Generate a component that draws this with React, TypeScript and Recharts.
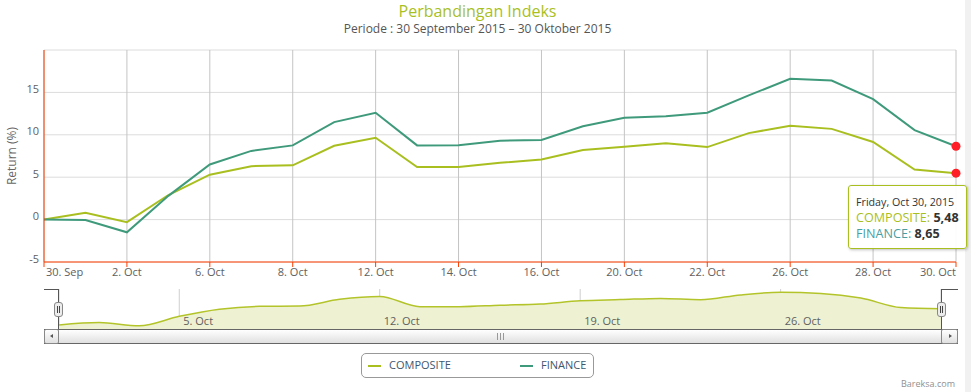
import React from "react";
import { LineChart, Line, AreaChart, Area, XAxis, YAxis, CartesianGrid, Tooltip } from "recharts";

const dates = [
  "30. Sep", "1. Oct", "2. Oct", "5. Oct", "6. Oct", "7. Oct", "8. Oct", "9. Oct",
  "12. Oct", "13. Oct", "14. Oct", "15. Oct", "16. Oct", "19. Oct", "20. Oct", "21. Oct",
  "22. Oct", "23. Oct", "26. Oct", "27. Oct", "28. Oct", "29. Oct", "30. Oct",
];
const longDates = [
  "Wednesday, Sep 30, 2015", "Thursday, Oct 1, 2015", "Friday, Oct 2, 2015", "Monday, Oct 5, 2015",
  "Tuesday, Oct 6, 2015", "Wednesday, Oct 7, 2015", "Thursday, Oct 8, 2015", "Friday, Oct 9, 2015",
  "Monday, Oct 12, 2015", "Tuesday, Oct 13, 2015", "Wednesday, Oct 14, 2015", "Thursday, Oct 15, 2015",
  "Friday, Oct 16, 2015", "Monday, Oct 19, 2015", "Tuesday, Oct 20, 2015", "Wednesday, Oct 21, 2015",
  "Thursday, Oct 22, 2015", "Friday, Oct 23, 2015", "Monday, Oct 26, 2015", "Tuesday, Oct 27, 2015",
  "Wednesday, Oct 28, 2015", "Thursday, Oct 29, 2015", "Friday, Oct 30, 2015",
];
const composite = [0, 0.8, -0.3, 2.9, 5.3, 6.3, 6.4, 8.7, 9.65, 6.2, 6.2, 6.7, 7.1, 8.2, 8.6, 9.0, 8.55, 10.2, 11.07, 10.7, 9.15, 5.9, 5.48];
const finance = [0, -0.05, -1.5, 2.8, 6.5, 8.1, 8.75, 11.5, 12.6, 8.75, 8.78, 9.3, 9.4, 11.0, 12.0, 12.2, 12.6, 14.65, 16.6, 16.4, 14.2, 10.55, 8.65];
const yTicks = [-5, 0, 5, 10, 15, 20];
const navLabels = ["5. Oct", "12. Oct", "19. Oct", "26. Oct"];

const seriesNames = ["COMPOSITE", "FINANCE"];
const COMP = "#a9bf1f";
const FIN = "#3f9a7c";
const RED = "#ff3c00";
const FONT = '"Open Sans", sans-serif';

const rows = dates.map((d, i) => ({ i, label: d, composite: composite[i], finance: finance[i] }));
const xTicks = dates.map((_, i) => i).filter((i) => i % 2 === 0);
const navTicks = navLabels.map((l) => dates.indexOf(l));
const last = dates.length - 1;

const fmt = (v: number) => v.toFixed(2).replace(".", ",");

function XTick(props: any) {
  const { x, y, payload } = props;
  const idx = payload.value;
  const anchor = idx === 0 ? "start" : idx === last ? "end" : "middle";
  return (
    <text x={idx === 0 ? x + 2 : x} y={y + 7} textAnchor={anchor} fill="#606060" fontSize={11} fontFamily={FONT}>
      {dates[idx]}
    </text>
  );
}

function YTick(props: any) {
  const { x, y, payload } = props;
  if (payload.value === 20) return null;
  return (
    <text x={x} y={y + 0.5} textAnchor="end" fill="#606060" fontSize={11} fontFamily={FONT}>
      {payload.value}
    </text>
  );
}

function NavTick(props: any) {
  const { x, payload } = props;
  return (
    <text x={x + 4} y={325} textAnchor="start" fill="#606060" fontSize={11} fontFamily={FONT}>
      {dates[payload.value]}
    </text>
  );
}

function Tip(props: any) {
  const { active, payload, label } = props;
  if (!active || !payload || !payload.length) return null;
  const idx = typeof label === "number" ? label : last;
  const comp = payload.find((p: any) => p.dataKey === "composite");
  const fin = payload.find((p: any) => p.dataKey === "finance");
  return (
    <div
      style={{
        width: 119,
        height: 64,
        boxSizing: "border-box",
        border: `1px solid ${COMP}`,
        borderRadius: 3,
        background: "rgba(255,255,255,0.92)",
        boxShadow: "1px 1px 3px rgba(0,0,0,0.25)",
        padding: "8px 0 0 7px",
        fontFamily: FONT,
        whiteSpace: "nowrap",
      }}
    >
      <div style={{ fontSize: 10.7, lineHeight: "16px", color: "#333" }}>{longDates[idx]}</div>
      <div style={{ fontSize: 12.6, lineHeight: "15.5px" }}>
        <span style={{ color: COMP }}>{seriesNames[0]}: </span>
        <b style={{ color: "#333" }}>{comp ? fmt(comp.value) : ""}</b>
      </div>
      <div style={{ fontSize: 12.6, lineHeight: "15.5px" }}>
        <span style={{ color: "#4a9ea2" }}>{seriesNames[1]}: </span>
        <b style={{ color: "#333" }}>{fin ? fmt(fin.value) : ""}</b>
      </div>
    </div>
  );
}

const abs = (s: React.CSSProperties): React.CSSProperties => ({ position: "absolute", ...s });

export default function App() {
  return (
    <div style={abs({ left: 0, top: 0, width: 971, height: 392, background: "#fff", fontFamily: FONT, overflow: "hidden" })}>
      <div style={abs({ left: 965, top: 0, width: 6, height: 392, background: "#f1f1f1" })} />

      <div style={abs({ left: 0, top: 2, width: 955, textAlign: "center", fontSize: 16, lineHeight: "18px", color: COMP })}>
        Perbandingan Indeks
      </div>
      <div style={abs({ left: 0, top: 22, width: 955, textAlign: "center", fontSize: 12, lineHeight: "14px", color: "#555" })}>
        Periode : 30 September 2015 – 30 Oktober 2015
      </div>
      <div
        style={abs({
          left: 12 - 40,
          top: 156 - 8,
          width: 80,
          textAlign: "center",
          fontSize: 12,
          lineHeight: "16px",
          color: "#666",
          transform: "rotate(-90deg)",
        })}
      >
        Return (%)
      </div>

      {/* navigator */}
      <div style={abs({ left: 0, top: 0 })}>
        <AreaChart width={971} height={392} data={rows} margin={{ top: 289, right: 30, bottom: 33, left: 59 }}>
          <CartesianGrid horizontal={false} stroke="#cfcfcf" />
          <XAxis
            dataKey="i"
            type="number"
            domain={[0, last]}
            ticks={navTicks}
            interval={0}
            height={30}
            axisLine={false}
            tickLine={false}
            tick={<NavTick />}
          />
          <YAxis hide domain={[-1.4, 12.2]} />
          <Area
            type="monotone"
            dataKey="composite"
            stroke="#b3c42a"
            strokeWidth={1.5}
            fill="#eef2d2"
            fillOpacity={1}
            baseValue="dataMin"
            isAnimationActive={false}
          />
        </AreaChart>
      </div>

      {/* navigator outline + handles */}
      <div style={abs({ left: 44, top: 289, width: 15, height: 1, background: "#555" })} />
      <div style={abs({ left: 58, top: 289, width: 1, height: 41, background: "#555" })} />
      <div style={abs({ left: 941, top: 289, width: 17, height: 1, background: "#555" })} />
      <div style={abs({ left: 941, top: 289, width: 1, height: 41, background: "#555" })} />
      {[54, 937].map((l) => (
        <div key={l} style={abs({ left: l, top: 302, width: 9, height: 15, boxSizing: "border-box", border: "1px solid #888", borderRadius: 3, background: "#ececec" })}>
          <div style={abs({ left: 2, top: 3, width: 1, height: 7, background: "#444" })} />
          <div style={abs({ left: 4, top: 3, width: 1, height: 7, background: "#444" })} />
        </div>
      ))}

      {/* scrollbar */}
      <div style={abs({ left: 44, top: 329, width: 914, height: 15, boxSizing: "border-box", background: "linear-gradient(#ffffff,#e0e0e0)", borderTop: "1px solid #666", borderBottom: "1px solid #666" })} />
      <div style={abs({ left: 44, top: 329, width: 15, height: 15, boxSizing: "border-box", border: "1px solid #888", borderRadius: 2, background: "linear-gradient(#ffffff,#e0e0e0)" })}>
        <div style={abs({ left: 5, top: 4, width: 0, height: 0, borderTop: "2.5px solid transparent", borderBottom: "2.5px solid transparent", borderRight: "3px solid #555" })} />
      </div>
      <div style={abs({ left: 941, top: 329, width: 17, height: 15, boxSizing: "border-box", border: "1px solid #888", borderRadius: 2, background: "linear-gradient(#ffffff,#e0e0e0)" })}>
        <div style={abs({ left: 7, top: 4, width: 0, height: 0, borderTop: "2.5px solid transparent", borderBottom: "2.5px solid transparent", borderLeft: "3px solid #555" })} />
      </div>
      {[497, 500, 503].map((l) => (
        <div key={l} style={abs({ left: l, top: 333, width: 1, height: 7, background: "#999" })} />
      ))}

      {/* main chart */}
      <div style={abs({ left: 0, top: 0 })}>
        <LineChart width={971} height={392} data={rows} margin={{ top: 50, right: 15, bottom: 100, left: 0 }}>
          <CartesianGrid vertical={false} stroke="#dcdcdc" />
          <CartesianGrid horizontal={false} stroke="#c4c4c4" />
          <XAxis
            dataKey="i"
            type="number"
            domain={[0, last]}
            ticks={xTicks}
            interval={0}
            height={30}
            axisLine={{ stroke: RED }}
            tickLine={{ stroke: RED }}
            tickSize={5}
            tick={<XTick />}
          />
          <YAxis
            domain={[-5, 20]}
            ticks={yTicks}
            interval={0}
            width={44}
            axisLine={{ stroke: RED }}
            tickLine={false}
            tickSize={3}
            tickMargin={2}
            tick={<YTick />}
          />
          <Tooltip
            defaultIndex={last}
            cursor={false}
            position={{ x: 848, y: 185 }}
            content={<Tip />}
            isAnimationActive={false}
            wrapperStyle={{ outline: "none" }}
          />
          <Line
            type="linear"
            dataKey="composite"
            name={seriesNames[0]}
            stroke={COMP}
            strokeWidth={2}
            dot={false}
            activeDot={{ r: 4.5, fill: "#ff1f26", stroke: "#ff1f26", strokeWidth: 0 }}
            isAnimationActive={false}
          />
          <Line
            type="linear"
            dataKey="finance"
            name={seriesNames[1]}
            stroke={FIN}
            strokeWidth={2}
            dot={false}
            activeDot={{ r: 4.5, fill: "#ff1f26", stroke: "#ff1f26", strokeWidth: 0 }}
            isAnimationActive={false}
          />
        </LineChart>
      </div>

      {/* legend */}
      <div style={abs({ left: 361, top: 353, width: 233, height: 25, boxSizing: "border-box", border: "1px solid #999", borderRadius: 5 })}>
        {[
          { name: seriesNames[0], color: COMP, line: 6, text: 27 },
          { name: seriesNames[1], color: FIN, line: 158, text: 179 },
        ].map((it) => (
          <React.Fragment key={it.name}>
            <div style={abs({ left: it.line, top: 11, width: 13, height: 2, background: it.color })} />
            <div style={abs({ left: it.text, top: 3, fontSize: 11, lineHeight: "16px", color: "#3e576f" })}>{it.name}</div>
          </React.Fragment>
        ))}
      </div>

      <div style={abs({ left: 855, top: 378, width: 100, textAlign: "right", fontSize: 9, lineHeight: "12px", color: "#909090" })}>
        Bareksa.com
      </div>
    </div>
  );
}
